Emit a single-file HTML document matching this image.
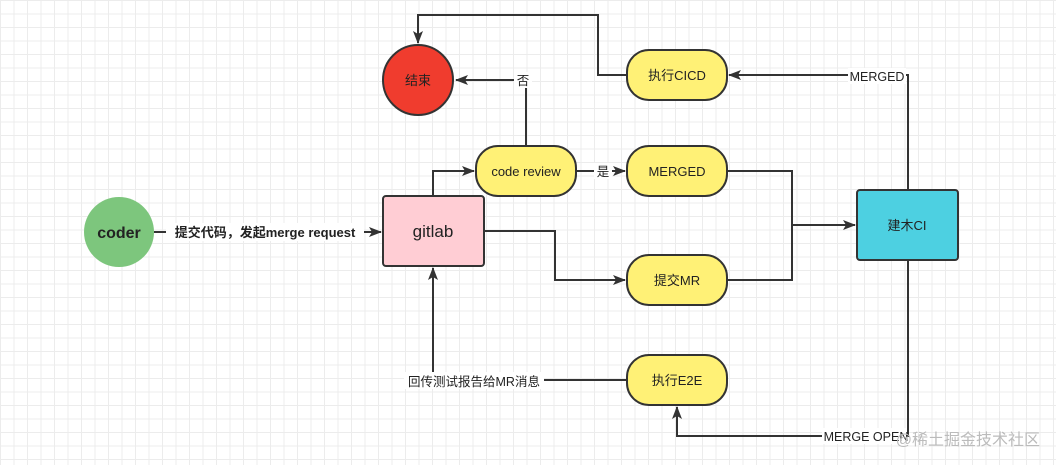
<!DOCTYPE html>
<html><head><meta charset="utf-8"><style>
html,body{margin:0;padding:0}
body{width:1056px;height:465px;overflow:hidden;background:#fff;
background-image:linear-gradient(#ececec 1px,transparent 1px),linear-gradient(90deg,#ececec 1px,transparent 1px);background-size:13.5px 13.5px;}
svg{position:absolute;left:0;top:0}
text{font-family:"Liberation Sans","Noto Sans CJK SC",sans-serif;fill:#222}
</style></head><body>
<svg width="1056" height="465" viewBox="0 0 1056 465">
<defs><marker id="a" markerWidth="13" markerHeight="10" refX="12" refY="5" orient="auto" markerUnits="userSpaceOnUse"><path d="M0,0 L13,5 L0,10 L3,5z" fill="#333"/></marker></defs>
<g fill="none" stroke="#333" stroke-width="2">
<path d="M627,75 H598 V15 H418 V43" marker-end="url(#a)"/>
<path d="M526,146 V80 H456" marker-end="url(#a)"/>
<path d="M433,196 V171 H474" marker-end="url(#a)"/>
<path d="M576,171 H625" marker-end="url(#a)"/>
<path d="M484,231 H555 V280 H625" marker-end="url(#a)"/>
<path d="M727,171 H792 V280 H727"/>
<path d="M792,225 H855" marker-end="url(#a)"/>
<path d="M908,190 V75 H729" marker-end="url(#a)"/>
<path d="M908,260 V436 H677 V407" marker-end="url(#a)"/>
<path d="M627,380 H433 V268" marker-end="url(#a)"/>
<path d="M154,232 H381" marker-end="url(#a)"/>
</g>
<g stroke="#333" stroke-width="2">
<circle cx="418" cy="80" r="35" fill="#f03c2e"/>
<circle cx="119" cy="232" r="35" fill="#7dc67d" stroke="none"/>
<rect x="383" y="196" width="101" height="70" rx="3" fill="#ffcdd4"/>
<rect x="857" y="190" width="101" height="70" rx="3" fill="#4dd0e1"/>
<rect x="627" y="50" width="100" height="50" rx="22" fill="#fff176"/>
<rect x="476" y="146" width="100" height="50" rx="22" fill="#fff176"/>
<rect x="627" y="146" width="100" height="50" rx="22" fill="#fff176"/>
<rect x="627" y="255" width="100" height="50" rx="22" fill="#fff176"/>
<rect x="627" y="355" width="100" height="50" rx="22" fill="#fff176"/>
</g>
<g text-anchor="middle" font-size="13">
<text x="418" y="85">结束</text>
<text x="119" y="238" font-size="16" font-weight="bold">coder</text>
<text x="433" y="237" font-size="17">gitlab</text>
<text x="907" y="230">建木CI</text>
<text x="677" y="80">执行CICD</text>
<text x="526" y="176">code review</text>
<text x="677" y="176">MERGED</text>
<text x="677" y="285">提交MR</text>
<text x="677" y="385">执行E2E</text>
</g>
<g font-size="12.5" text-anchor="middle">
<rect x="514" y="72" width="18" height="16" fill="#fff"/><text x="523" y="85">否</text>
<rect x="594" y="163" width="18" height="16" fill="#fff"/><text x="603" y="176">是</text>
<rect x="166" y="223" width="198" height="18" fill="#fff"/><text x="265" y="237" font-weight="bold" font-size="13">提交代码，发起merge request</text>
<rect x="848" y="68" width="58" height="16" fill="#fff"/><text x="877" y="81">MERGED</text>
<rect x="404" y="372" width="140" height="17" fill="#fff"/><text x="474" y="386">回传测试报告给MR消息</text>
<rect x="822" y="428" width="84" height="16" fill="#fff"/><text x="866" y="441">MERGE OPEN</text>
</g>
<text x="1040" y="445" font-size="16" text-anchor="end" style="fill:#bbb">@稀土掘金技术社区</text>
</svg>
</body></html>
